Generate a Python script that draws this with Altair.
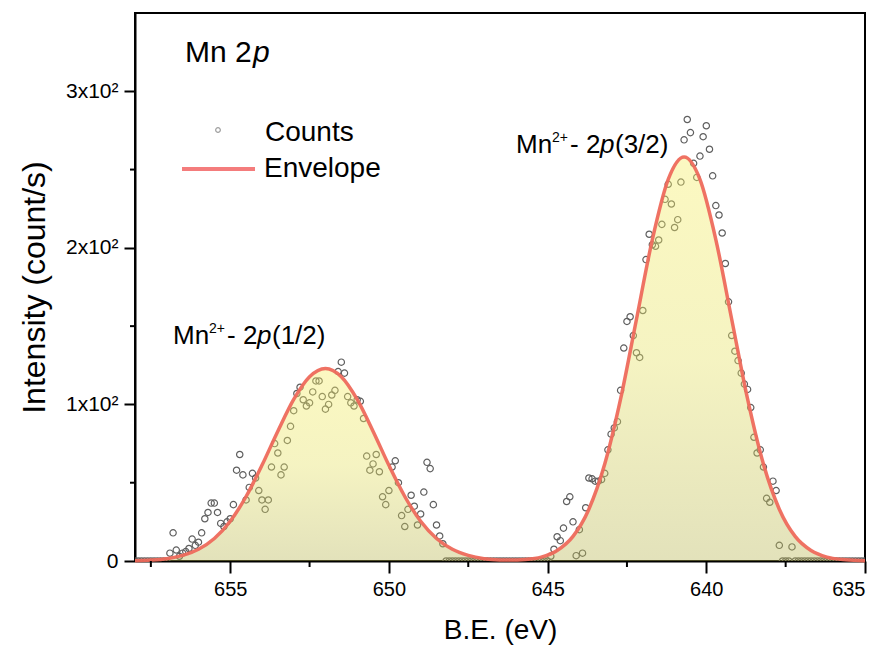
import altair as alt
import pandas as pd
import numpy as np

# ---- measured counts (B.E. grid 658.0 -> 635.0 eV, 0.1 eV step) ----
zeros_left = [0] * 11            # 658.0 .. 657.0
counts_2p12 = [                  # 656.9 .. 648.3
    5, 18, 7, 3, 5, 6, 8, 14, 10, 12,
    18, 27, 31, 37, 37, 31, 24, 22, 25, 27,
    36, 58, 68, 55, 39, 47, 56, 53, 45, 39,
    33, 39, 60, 75, 69, 55, 60, 77, 86, 96,
    107, 111, 103, 99, 101, 108, 115, 115, 105, 97,
    100, 106, 109, 121, 127, 120, 105, 101, 99, 103,
    102, 91, 67, 58, 62, 68, 57, 41, 36, 45,
    60, 64, 50, 29, 22, 33, 42, 35, 23, 30,
    44, 63, 59, 36, 23, 16, 11,
]
zeros_mid = [0] * 33             # 648.2 .. 645.0
counts_2p32 = [                  # 644.9 .. 637.3
    3, 7.5, 15.5, 13, 21, 38, 41, 25, 3.4, 20,
    5, 34, 53, 52.5, 51, 51, 52, 56, 71, 81,
    85, 89, 109, 136, 153, 156, 144, 133, 130, 160,
    192.5, 208.7, 202, 201, 205, 215, 231, 240.6, 228, 213,
    218, 242, 269, 282, 273.6, 254, 245, 258.6, 271, 278,
    263, 246, 227, 221, 209.5, 190, 165.5, 144, 134, 128,
    120, 113, 109.6, 98, 79, 69, 71, 60, 40, 37.5,
    51, 45, 10, 0, 0, 0, 9,
]
zeros_right = [0] * 23           # 637.2 .. 635.0

counts = zeros_left + counts_2p12 + zeros_mid + counts_2p32 + zeros_right
be = np.round(658.0 - 0.1 * np.arange(len(counts)), 1)

# ---- envelope ----
env_be = [658.0, 657.5, 657.0, 656.5, 656.0, 655.5, 655.0, 654.5, 654.0, 653.5,
          653.0, 652.5, 652.0, 651.5, 651.0, 650.5, 650.0, 649.5, 649.0, 648.5,
          648.0, 647.5, 647.0, 646.5,
          646.2, 645.7, 645.2, 644.7, 644.2, 643.7, 643.2, 642.7, 642.2, 641.7,
          641.2, 640.7, 640.2, 639.7, 639.2, 638.7, 638.2, 637.7, 637.2, 636.7,
          636.2, 635.7, 635.2, 635.0]
env_val = [0.2, 0.6, 1.5, 3.6, 7.5, 14.4, 25.4, 41.2, 61.1, 82.9,
           103.2, 117.7, 123.0, 117.7, 103.2, 82.9, 61.1, 41.2, 25.4, 14.4,
           7.5, 3.6, 1.5, 0.7,
           0.6, 1.0, 2.5, 6.7, 15.7, 33.1, 61.9, 103.5, 154.4, 205.3,
           243.7, 258.0, 243.7, 205.3, 154.4, 103.5, 61.9, 33.1, 15.7, 6.7,
           2.5, 0.9, 0.3, 0.2]
env_part = ["2p1/2"] * 24 + ["2p3/2"] * 24

x_ticks = [635, 640, 645, 650, 655]
x_minor = [637.5, 642.5, 647.5, 652.5, 657.5]
y_ticks = [0, 100, 200, 300]
y_minor = [50, 150, 250]

df_counts = pd.DataFrame({"be": be, "counts": counts})
df_env = pd.DataFrame({"be": env_be, "env": env_val, "part": env_part})

W, H = 730, 548
OX, OY = 135, 13   # plot origin in page pixels (for annotation placement)
FONT = "Liberation Sans, Arial, sans-serif"

x_scale = alt.Scale(domain=[635, 658], reverse=True, nice=False, zero=False)
y_scale = alt.Scale(domain=[0, 350], nice=False, zero=False)

x_axis = alt.Axis(values=x_ticks, format="d", tickSize=12, tickWidth=2, tickColor="black",
                  domainColor="black", domainWidth=2, labelFontSize=20, labelColor="black",
                  labelFont=FONT, labelPadding=6, title="B.E. (eV)", titleFont=FONT,
                  titleFontSize=28, titleFontWeight="normal", titleColor="black",
                  titlePadding=17, grid=False)
y_axis = alt.Axis(values=y_ticks,
                  labelExpr="datum.value == 0 ? '0' : format(datum.value/100, 'd') + 'x10²'",
                  tickSize=11, tickWidth=2, tickColor="black", domainColor="black",
                  domainWidth=2, labelFontSize=21, labelColor="black", labelFont=FONT,
                  labelPadding=6, title="Intensity (count/s)", titleFont=FONT,
                  titleFontSize=32, titleFontWeight="normal", titleColor="black",
                  titlePadding=14, grid=False)

points = alt.Chart(df_counts).mark_point(
    shape="circle", filled=False, size=40, color="#5f5f5f", strokeWidth=1.2,
    opacity=1, clip=True
).encode(
    x=alt.X("be:Q", scale=x_scale, axis=x_axis),
    y=alt.Y("counts:Q", scale=y_scale, axis=y_axis),
)

grad = alt.Gradient(
    gradient="linear",
    stops=[alt.GradientStop(color="#f6ee64", offset=0),
           alt.GradientStop(color="#e6e266", offset=0.5),
           alt.GradientStop(color="#b8b654", offset=1)],
    x1=0, x2=0, y1=0, y2=1,
)
area = alt.Chart(df_env).mark_area(
    interpolate="monotone", fill=grad, fillOpacity=0.4
).encode(
    x=alt.X("be:Q", scale=x_scale),
    y=alt.Y("env:Q", scale=y_scale, stack=None),
    detail="part:N",
)

line = alt.Chart(df_env).mark_line(
    interpolate="monotone", color="#ee6a5c", strokeWidth=3.5, opacity=0.95
).encode(
    x=alt.X("be:Q", scale=x_scale),
    y=alt.Y("env:Q", scale=y_scale),
)

minor_x = alt.Chart(pd.DataFrame({"be": x_minor})).mark_rule(
    color="black", strokeWidth=2
).encode(x=alt.X("be:Q", scale=x_scale), y=alt.value(H), y2=alt.value(H + 6))

minor_y = alt.Chart(pd.DataFrame({"v": y_minor})).mark_rule(
    color="black", strokeWidth=2
).encode(y=alt.Y("v:Q", scale=y_scale), x=alt.value(0), x2=alt.value(-5))


def label(text, px, py, size, italic=False, color="black"):
    return alt.Chart(pd.DataFrame({"t": [text]})).mark_text(
        align="left", baseline="alphabetic", font=FONT, fontSize=size,
        fontStyle="italic" if italic else "normal", color=color
    ).encode(text="t:N", x=alt.value(px - OX), y=alt.value(py - OY))


texts = [
    label("Mn 2", 185, 62, 30), label("p", 253, 62, 30, italic=True),
    # peak 2p(3/2)
    label("Mn", 516, 153, 26), label("2+", 552, 142, 14),
    label("- 2", 570, 153, 26), label("p", 600, 153, 26, italic=True),
    label("(3/2)", 615, 153, 26),
    # peak 2p(1/2)
    label("Mn", 173, 344, 26), label("2+", 209, 333, 14),
    label("- 2", 227, 344, 26), label("p", 257, 344, 26, italic=True),
    label("(1/2)", 272, 344, 26),
    # legend
    label("Counts", 265, 141, 28), label("Envelope", 264, 177, 28),
]

leg_pt = alt.Chart(pd.DataFrame({"k": ["Counts"]})).mark_point(
    shape="circle", filled=False, size=22, color="#777777", strokeWidth=1.2
).encode(x=alt.value(218 - OX), y=alt.value(130 - OY))
leg_line = alt.Chart(pd.DataFrame({"k": ["Envelope"]})).mark_rule(
    color="#f47c7c", strokeWidth=4
).encode(x=alt.value(182 - OX), x2=alt.value(255 - OX), y=alt.value(169 - OY))

chart = alt.layer(
    points, area, line, minor_x, minor_y, leg_pt, leg_line, *texts
).properties(
    width=W, height=H,
    autosize=alt.AutoSizeParams(type="none"),
    padding={"left": 127, "top": 5, "right": 8, "bottom": 84},
).configure_view(stroke="black", strokeWidth=2)

chart.save("out.html", embed_options={"renderer": "svg", "actions": False})
